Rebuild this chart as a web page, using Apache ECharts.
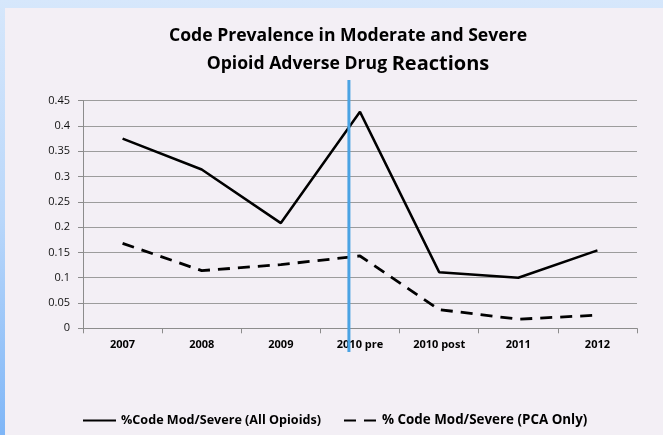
<!DOCTYPE html>
<html>
<head>
<meta charset="utf-8">
<script src="https://cdn.jsdelivr.net/npm/echarts@6/dist/echarts.min.js"></script>
<style>
  html, body { margin: 0; padding: 0; }
  body {
    width: 663px; height: 435px; overflow: hidden; position: relative;
    background: linear-gradient(to bottom, #d6e7fb 0%, #b9d7fa 50%, #7fb6f7 100%);
  }
  #chart { position: absolute; left: 5px; top: 8px; width: 658px; height: 427px; }
</style>
</head>
<body>
<div id="chart"></div>
<script>
// Years / periods on the x axis
const categories = ['2007', '2008', '2009', '2010 pre', '2010 post', '2011', '2012'];
// Share of moderate/severe opioid ADRs that carried a code
const allOpioids = [0.375, 0.314, 0.208, 0.428, 0.111, 0.100, 0.154];
const pcaOnly = [0.168, 0.114, 0.126, 0.143, 0.037, 0.018, 0.026];
// Y axis ticks
const yMin = 0, yMax = 0.45, yStep = 0.05;
// Intervention marker: position in category units, and its vertical extent in y units
const markerX = 2.86;
const markerSpan = [0.491, -0.047];

const seriesNames = ['%Code Mod/Severe (All Opioids)', '% Code Mod/Severe (PCA Only)'];
const FONT = 'Open Sans';
const AXIS_GREY = '#8c8c8c';

const chart = echarts.init(document.getElementById('chart'));
chart.setOption({
  backgroundColor: '#f3eff5',
  animation: false,
  title: {
    text: 'Code Prevalence in Moderate and Severe\nOpioid Adverse Drug {big|Reactions}',
    left: 338,
    top: 9,
    textAlign: 'center',
    textStyle: {
      fontFamily: FONT, fontWeight: 'bold', fontSize: 17.6, color: '#000', lineHeight: 28,
      rich: { big: { fontFamily: FONT, fontWeight: 'bold', fontSize: 20, color: '#000', lineHeight: 28 } }
    }
  },
  legend: {
    data: [
      { name: seriesNames[0] },
      { name: seriesNames[1], textStyle: { fontSize: 13.4 } }
    ],
    left: 72,
    top: 401,
    itemWidth: 33,
    itemHeight: 10,
    itemGap: 22,
    itemStyle: { opacity: 0 },
    textStyle: { fontFamily: FONT, fontWeight: 'bold', fontSize: 12.6, color: '#000' }
  },
  grid: { left: 78, right: 26, top: 92.7, bottom: 106.7, containLabel: false },
  xAxis: [{
    type: 'category',
    data: categories,
    boundaryGap: true,
    axisLine: { lineStyle: { color: AXIS_GREY, width: 1 } },
    axisTick: { show: true, length: 5, lineStyle: { color: AXIS_GREY } },
    axisLabel: { margin: 11, fontFamily: FONT, fontWeight: 'bold', fontSize: 11, color: '#000' }
  }, {
    type: 'value',
    min: -0.5, max: categories.length - 0.5,
    show: false
  }],
  yAxis: {
    type: 'value',
    min: yMin, max: yMax, interval: yStep,
    axisLine: { show: true, onZero: false, lineStyle: { color: AXIS_GREY, width: 1 } },
    axisTick: { show: true, length: 5, lineStyle: { color: AXIS_GREY } },
    splitLine: { lineStyle: { color: '#9c9c9c', width: 1 } },
    axisLabel: { margin: 13, fontFamily: FONT, fontSize: 11, color: '#111',
      formatter: v => String(+v.toFixed(2)) }
  },
  series: [{
    name: seriesNames[0],
    type: 'line',
    data: allOpioids,
    symbol: 'none',
    lineStyle: { color: '#000', width: 2.5, type: 'solid' },
    itemStyle: { color: '#000' },
    z: 3
  }, {
    name: seriesNames[1],
    type: 'line',
    data: pcaOnly,
    symbol: 'none',
    lineStyle: { color: '#000', width: 2.8, type: [12, 8] },
    itemStyle: { color: '#000' },
    z: 3
  }, {
    type: 'custom',
    xAxisIndex: 1,
    yAxisIndex: 0,
    clip: false,
    z: 10,
    silent: true,
    data: [[markerX, markerSpan[0], markerSpan[1]]],
    encode: { x: 0, y: 1 },
    renderItem: function (params, api) {
      const top = api.coord([api.value(0), api.value(1)]);
      const bottom = api.coord([api.value(0), api.value(2)]);
      return {
        type: 'line',
        shape: { x1: top[0], y1: top[1], x2: bottom[0], y2: bottom[1] },
        style: { stroke: '#4aa3e3', lineWidth: 3 }
      };
    }
  }]
});
</script>
</body>
</html>
